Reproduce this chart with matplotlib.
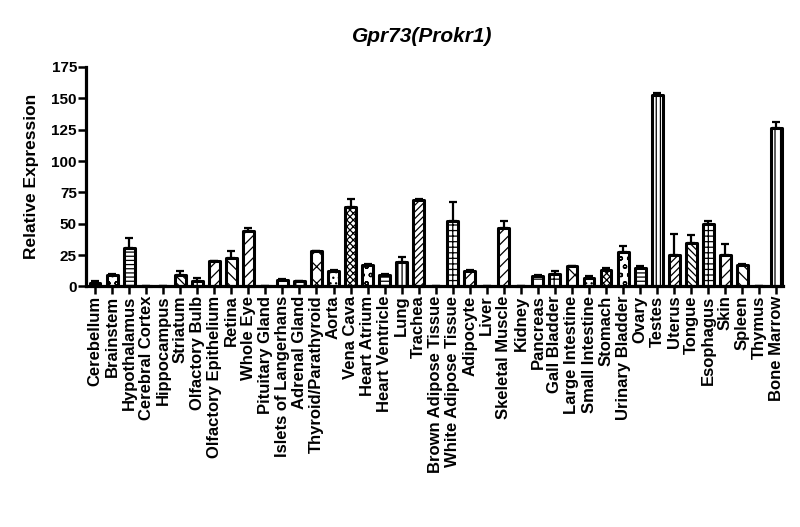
import matplotlib
matplotlib.use('Agg')
import matplotlib.pyplot as plt
import numpy as np

### data ###
tissues = ['Cerebellum', 'Brainstem', 'Hypothalamus', 'Cerebral Cortex', 'Hippocampus',
	'Striatum', 'Olfactory Bulb', 'Olfactory Epithelium', 'Retina', 'Whole Eye',
	'Pituitary Gland', 'Islets of Langerhans', 'Adrenal Gland', 'Thyroid/Parathyroid', 'Aorta',
	'Vena Cava', 'Heart Atrium', 'Heart Ventricle', 'Lung', 'Trachea',
	'Brown Adipose Tissue', 'White Adipose Tissue', 'Adipocyte', 'Liver', 'Skeletal Muscle',
	'Kidney', 'Pancreas', 'Gall Bladder', 'Large Intestine', 'Small Intestine',
	'Stomach', 'Urinary Bladder', 'Ovary', 'Testes', 'Uterus',
	'Tongue', 'Esophagus', 'Skin', 'Spleen', 'Thymus', 'Bone Marrow']

expression = [3, 9, 31, 0.5, 0.5,
	9, 4, 20, 23, 44,
	0.5, 5, 4, 28, 12,
	63, 17, 9, 19.5, 69,
	0.5, 52, 12, 0.5, 46.5,
	0.5, 8, 10, 16, 6.5,
	13, 27.5, 14.5, 153, 25,
	34.5, 49.5, 25, 17, 0.5, 126]

sem = [1, 1, 8, 0, 0,
	3, 2.5, 0.5, 5, 3,
	0, 1, 0.5, 0.5, 1,
	7, 1, 1, 4, 0.5,
	0, 15, 1, 0, 5.5,
	0, 1, 2.5, 0.5, 2,
	2, 4.5, 1.5, 1, 17,
	6.5, 2.5, 9, 1, 0, 5]

# prism style fill patterns, they repeat every 15 bars
patterns = ['xxxxx', 'oo', '----', '||||', '/////', '\\\\\\\\\\', '+++', '///',
	'\\\\\\', '///', '|||', '--', '++', 'xx', '...']

plt.rcParams['font.family'] = ['Liberation Sans', 'DejaVu Sans']
plt.rcParams['font.weight'] = 'bold'
plt.rcParams['hatch.linewidth'] = 0.9

fig = plt.figure(figsize=(8, 5.27), dpi=100)
ax = fig.add_axes([0.1075, 0.4564, 0.8715, 0.4165])

x = np.arange(len(tissues))
for i in x:
	ax.bar(i, expression[i], width=0.64, color='white', edgecolor='black',
		linewidth=2.2, hatch=patterns[i % len(patterns)], joinstyle='round',
		clip_on=False, zorder=2)

ax.errorbar(x, expression, yerr=[np.zeros(len(sem)), sem], fmt='none', ecolor='black',
	elinewidth=1.6, capsize=3, capthick=1.6, zorder=3)

ax.set_xlim(-0.53, 40.4)
ax.set_ylim(0, 175)
ax.set_yticks(range(0, 176, 25))
ax.set_xticks(x)
ax.set_xticklabels(tissues, rotation=90, fontsize=12, fontweight='bold')
for lab in ax.get_yticklabels():
	lab.set_fontsize(11)
	lab.set_fontweight('bold')

for side in ['top', 'right']:
	ax.spines[side].set_visible(False)
for side in ['left', 'bottom']:
	ax.spines[side].set_linewidth(2.3)
ax.tick_params(axis='both', direction='out', width=1.8, length=5.5, pad=1)

ax.set_ylabel('Relative Expression', fontsize=12.5, fontweight='bold')
ax.yaxis.set_label_coords(-0.068, 0.5)

fig.text(422 / 800, 1 - 36 / 527, 'Gpr73(Prokr1)', ha='center', va='center',
	fontsize=15, fontweight='bold', fontstyle='italic')

fig.savefig('out.png', dpi=100)
